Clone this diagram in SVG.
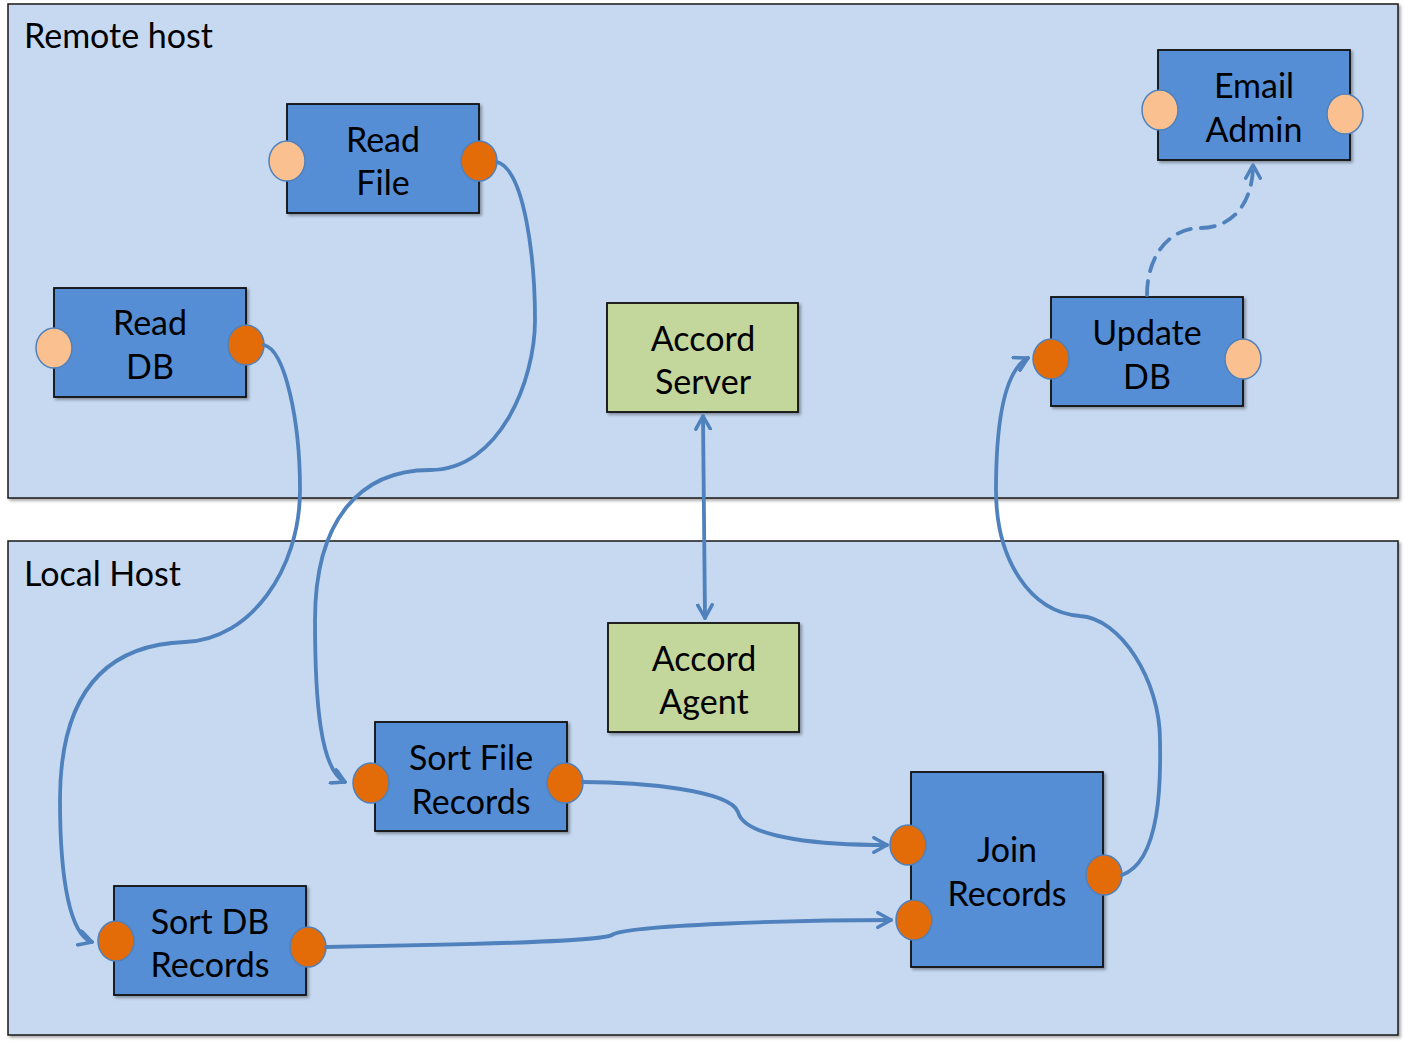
<svg xmlns="http://www.w3.org/2000/svg" width="1406" height="1048" viewBox="0 0 1406 1048">
<style>
.host{fill:#c6d9f1;stroke:#1a1a1a;stroke-width:1.5}
.node{fill:#558ed5;stroke:#111;stroke-width:1.8;filter:url(#sh)}
.acc{fill:#c3d69b;stroke:#111;stroke-width:1.8;filter:url(#sh)}
.out{fill:#e36c09;stroke:#4f81bd;stroke-width:1.5}
.in{fill:#fac090;stroke:#4f81bd;stroke-width:1.5}
.t{font-family:Lato,"Open Sans",sans-serif;font-size:34px;fill:#000;text-anchor:middle}
.ht{font-family:Lato,"Open Sans",sans-serif;font-size:34px;fill:#000}
.c{fill:none;stroke:#4f81bd;stroke-width:3.8;stroke-linecap:round}
</style>
<defs>
<filter id="sh" x="-10%" y="-10%" width="130%" height="130%">
<feDropShadow dx="2" dy="2" stdDeviation="1.5" flood-color="#000" flood-opacity="0.35"/>
</filter>
<marker id="ar" viewBox="0 0 12 12" refX="10" refY="6" markerWidth="4.6" markerHeight="4.6" orient="auto-start-reverse" markerUnits="strokeWidth">
<path d="M1,1 L10,6 L1,11" fill="none" stroke="#4f81bd" stroke-width="2.4" stroke-linecap="round" stroke-linejoin="round"/>
</marker>
</defs>
<rect width="1406" height="1048" fill="#fff"/>
<g id="remote-host">
<rect class="host" x="8" y="4" width="1390" height="494" filter="url(#sh)"/>
<text class="ht" x="24" y="48">Remote host</text>
</g>
<g id="local-host">
<rect class="host" x="8" y="541" width="1390" height="494" filter="url(#sh)"/>
<text class="ht" x="24" y="586">Local Host</text>
</g>
<g id="read-file">
<rect class="node" x="287" y="104" width="192" height="109"/>
<text class="t" x="383" y="152">Read</text>
<text class="t" x="383" y="195">File</text>
<ellipse class="in" cx="287" cy="161" rx="18" ry="20"/>
<ellipse class="out" cx="479" cy="161" rx="18" ry="20"/>
</g>
<g id="read-db">
<rect class="node" x="54" y="288" width="192" height="109"/>
<text class="t" x="150" y="335">Read</text>
<text class="t" x="150" y="379">DB</text>
<ellipse class="in" cx="54" cy="348" rx="18" ry="20"/>
<ellipse class="out" cx="246" cy="345" rx="18" ry="20"/>
</g>
<g id="accord-server">
<rect class="acc" x="607" y="303" width="191" height="109"/>
<text class="t" x="703" y="351">Accord</text>
<text class="t" x="703" y="394">Server</text>
</g>
<g id="accord-agent">
<rect class="acc" x="608" y="623" width="191" height="109"/>
<text class="t" x="704" y="671">Accord</text>
<text class="t" x="704" y="714">Agent</text>
</g>
<g id="email-admin">
<rect class="node" x="1158" y="50" width="192" height="110"/>
<text class="t" x="1254" y="98">Email</text>
<text class="t" x="1254" y="142">Admin</text>
<ellipse class="in" cx="1160" cy="110" rx="18" ry="20"/>
<ellipse class="in" cx="1345" cy="114" rx="18" ry="20"/>
</g>
<g id="update-db">
<rect class="node" x="1051" y="297" width="192" height="109"/>
<text class="t" x="1147" y="345">Update</text>
<text class="t" x="1147" y="389">DB</text>
<ellipse class="out" cx="1051" cy="359" rx="18" ry="20"/>
<ellipse class="in" cx="1243" cy="359" rx="18" ry="20"/>
</g>
<g id="sort-file-records">
<rect class="node" x="375" y="722" width="192" height="109"/>
<text class="t" x="471" y="770">Sort File</text>
<text class="t" x="471" y="814">Records</text>
<ellipse class="out" cx="371" cy="783" rx="18" ry="20"/>
<ellipse class="out" cx="565" cy="783" rx="18" ry="20"/>
</g>
<g id="join-records">
<rect class="node" x="911" y="772" width="192" height="195"/>
<text class="t" x="1007" y="862">Join</text>
<text class="t" x="1007" y="906">Records</text>
<ellipse class="out" cx="908" cy="845" rx="18" ry="20"/>
<ellipse class="out" cx="914" cy="920" rx="18" ry="20"/>
<ellipse class="out" cx="1104" cy="875" rx="18" ry="20"/>
</g>
<g id="sort-db-records">
<rect class="node" x="114" y="886" width="192" height="109"/>
<text class="t" x="210" y="934">Sort DB</text>
<text class="t" x="210" y="977">Records</text>
<ellipse class="out" cx="116" cy="941" rx="18" ry="20"/>
<ellipse class="out" cx="308" cy="947" rx="18" ry="20"/>
</g>
<g id="connectors">
<path class="c" marker-end="url(#ar)" d="M497,162 C525,170 535,260 535,320 C535,380 500,470 430,470 C360,470 315,520 315,620 C315,700 320,770 345,782"/>
<path class="c" marker-end="url(#ar)" d="M264,345 C285,350 300,420 300,490 C300,570 250,640 185,642 C100,645 60,700 60,800 C60,880 70,935 92,942"/>
<path class="c" marker-end="url(#ar)" d="M583,782 C640,782 730,790 738,812 C745,840 830,845 887,845"/>
<path class="c" marker-end="url(#ar)" d="M326,947 C450,945 600,942 612,935 C625,925 800,920 891,920"/>
<path class="c" marker-end="url(#ar)" d="M1122,875 C1165,860 1160,760 1160,740 C1160,680 1120,618 1080,616 C1030,612 996,560 996,490 C996,420 1005,370 1028,358"/>
<path class="c" stroke-dasharray="14,10" marker-end="url(#ar)" d="M1147,295 C1147,255 1170,228 1200,228 C1235,228 1253,200 1253,165"/>
<path class="c" marker-start="url(#ar)" marker-end="url(#ar)" d="M703,416 L705,618"/>
</g>
</svg>
